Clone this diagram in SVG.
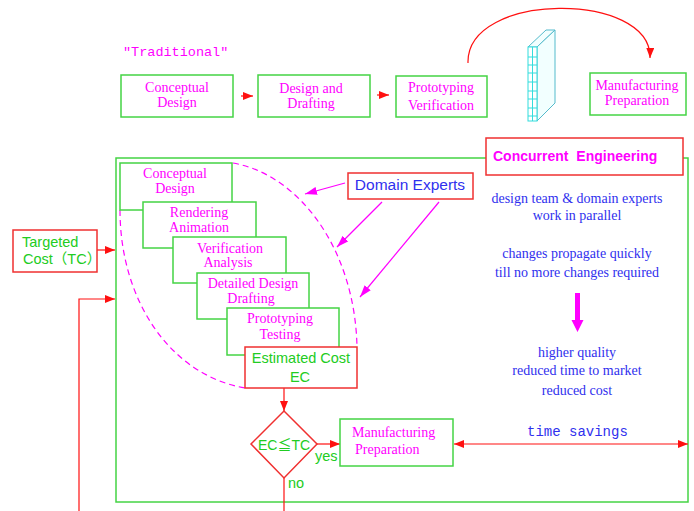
<svg xmlns="http://www.w3.org/2000/svg" width="694" height="511" viewBox="0 0 694 511">
<defs>
<style>
.g{fill:#fff;stroke:#44d444;stroke-width:1.5}
.r{fill:#fff;stroke:#f03030;stroke-width:1.5}
.mt{font-family:"Liberation Serif",serif;font-size:14px;fill:#ff00ff;text-anchor:middle}
.bt{font-family:"Liberation Serif",serif;font-size:14px;fill:#3030ee;text-anchor:middle}
.gt{font-family:"Liberation Sans","Noto Sans CJK JP",sans-serif;font-size:14.5px;fill:#22cc22}
.mono{font-family:"Liberation Mono",monospace;font-size:14px}
.rl{stroke:#ff1010;stroke-width:1.2;fill:none}
.ml{stroke:#ff00ff;stroke-width:1.2;fill:none}
</style>
<marker id="ar" viewBox="0 0 10 8" refX="10" refY="4" markerWidth="10" markerHeight="8" markerUnits="userSpaceOnUse" orient="auto-start-reverse"><path d="M0,0 L10,4 L0,8 z" fill="#ff1010"/></marker>
<marker id="am" viewBox="0 0 12 8" refX="12" refY="4" markerWidth="12" markerHeight="8" markerUnits="userSpaceOnUse" orient="auto"><path d="M0,0 L12,4 L0,8 z" fill="#ff00ff"/></marker>
</defs>
<rect width="694" height="511" fill="#fff"/>

<text x="123" y="56" class="mono" style="font-size:13.5px" fill="#ff00ff">"Traditional"</text>

<g id="ce-frame"><rect x="116" y="158" width="572" height="344" fill="none" stroke="#44d444" stroke-width="1.5"/></g>

<g id="expert-scope">
<path d="M233,163 C300,175 355,250 357,347" fill="none" stroke="#ff00ff" stroke-width="1.2" stroke-dasharray="6,4"/>
<path d="M120,210 C120,300 170,375 245,388" fill="none" stroke="#ff00ff" stroke-width="1.2" stroke-dasharray="6,4"/>
</g>

<g id="connectors">
<line x1="241" y1="96" x2="253" y2="96" class="rl" marker-end="url(#ar)"/>
<line x1="377" y1="95" x2="389" y2="95" class="rl" marker-end="url(#ar)"/>
<path d="M468,63 C466,-9 652,-9 650,58" class="rl" marker-end="url(#ar)"/>
<line x1="97" y1="250" x2="115" y2="250" class="rl" marker-end="url(#ar)"/>
<polyline points="79,511 79,299 115,299" class="rl" marker-end="url(#ar)"/>
<line x1="284" y1="388" x2="284" y2="411" class="rl" marker-end="url(#ar)"/>
<line x1="317" y1="444" x2="340" y2="444" class="rl" marker-end="url(#ar)"/>
<line x1="284" y1="478" x2="284" y2="511" class="rl"/>
<line x1="454" y1="444" x2="688" y2="444" class="rl" marker-start="url(#ar)" marker-end="url(#ar)"/>
<line x1="345" y1="183" x2="305" y2="194" class="ml" marker-end="url(#am)"/>
<line x1="382" y1="202" x2="337" y2="247" class="ml" marker-end="url(#am)"/>
<line x1="439" y1="202" x2="360" y2="297" class="ml" marker-end="url(#am)"/>
<polygon points="575,293 580,293 580,320 583.5,320 577.5,332 571.5,320 575,320" fill="#ff00ff"/>
</g>

<g id="t-conceptual"><rect x="121" y="75" width="112" height="42" class="g"/><text class="mt"><tspan x="177" y="92">Conceptual</tspan><tspan x="177" y="107">Design</tspan></text></g>
<g id="t-design"><rect x="258" y="75" width="112" height="42" class="g"/><text class="mt"><tspan x="311" y="93">Design and</tspan><tspan x="311" y="108">Drafting</tspan></text></g>
<g id="t-proto"><rect x="396" y="76" width="91" height="41" class="g"/><text class="mt"><tspan x="441" y="92">Prototyping</tspan><tspan x="441" y="110">Verification</tspan></text></g>
<g id="t-manuf"><rect x="590" y="73" width="96" height="42" class="g"/><text class="mt"><tspan x="637" y="90">Manufacturing</tspan><tspan x="637" y="105">Preparation</tspan></text></g>

<g id="wall">
<polygon points="528,47 537,47 555,30 546,30" fill="#f2ffff" stroke="#55bbcc" stroke-width="1"/>
<polygon points="537,47 555,30 555,103 537,121" fill="#f2ffff" stroke="#55bbcc" stroke-width="1"/>
<rect x="528" y="47" width="9" height="74" fill="#fff" stroke="#33dddd" stroke-width="1"/>
<path d="M532.5,47 V121 M528,57 H537 M528,65 H537 M528,73 H537 M528,82 H537 M528,91 H537 M528,99 H537 M528,108 H537 M528,116 H537" stroke="#33dddd" stroke-width="1"/>
</g>

<g id="targeted-cost"><rect x="13" y="230" width="84" height="42" class="r"/><text class="gt"><tspan x="22" y="247">Targeted</tspan><tspan x="23" y="264">Cost（TC）</tspan></text></g>

<g id="s-conceptual"><rect x="120" y="163" width="112" height="47" class="g"/><text class="mt"><tspan x="175" y="178">Conceptual</tspan><tspan x="175" y="193">Design</tspan></text></g>
<g id="s-rendering"><rect x="143" y="202" width="113" height="46" class="g"/><text class="mt"><tspan x="199" y="217">Rendering</tspan><tspan x="199" y="232">Animation</tspan></text></g>
<g id="s-verification"><rect x="173" y="237" width="113" height="46" class="g"/><text class="mt"><tspan x="230" y="253">Verification</tspan><tspan x="228" y="267">Analysis</tspan></text></g>
<g id="s-detailed"><rect x="197" y="273" width="112" height="46" class="g"/><text class="mt"><tspan x="253" y="288">Detailed Design</tspan><tspan x="251" y="303">Drafting</tspan></text></g>
<g id="s-prototyping"><rect x="227" y="308" width="112" height="47" class="g"/><text class="mt"><tspan x="280" y="323">Prototyping</tspan><tspan x="280" y="339">Testing</tspan></text></g>
<g id="s-estimated"><rect x="245" y="347" width="112" height="41" class="r"/><text class="gt" text-anchor="middle"><tspan x="301" y="363">Estimated Cost</tspan><tspan x="300" y="382">EC</tspan></text></g>

<g id="domain-experts"><rect x="348" y="173" width="125" height="26" class="r"/><text x="410" y="190" text-anchor="middle" font-family="Liberation Sans,sans-serif" font-size="15.5" fill="#3030ee">Domain Experts</text></g>

<g id="concurrent-title"><rect x="486" y="138" width="197" height="37" class="r"/><text x="493" y="161" font-family="Liberation Sans,sans-serif" font-size="14" font-weight="bold" word-spacing="4" fill="#ff00ff">Concurrent Engineering</text></g>

<g id="notes">
<text class="bt"><tspan x="577" y="203">design team &amp; domain experts</tspan><tspan x="577" y="220">work in parallel</tspan></text>
<text class="bt"><tspan x="577" y="258">changes propagate quickly</tspan><tspan x="577" y="277">till no more changes required</tspan></text>
<text class="bt"><tspan x="577" y="357">higher quality</tspan><tspan x="577" y="375">reduced time to market</tspan><tspan x="577" y="395">reduced cost</tspan></text>
</g>

<g id="decision"><polygon points="284,411 317,444 284,478 251,444" class="r"/><text x="284" y="450" class="gt" text-anchor="middle" style="font-size:14px">EC≦TC</text></g>
<text x="315" y="461" class="gt">yes</text>
<text x="288" y="488" class="gt">no</text>

<g id="b-manuf"><rect x="340" y="419" width="113" height="47" class="g"/><text class="mt" text-anchor="start" style="text-anchor:start"><tspan x="352" y="437">Manufacturing</tspan><tspan x="355" y="454">Preparation</tspan></text></g>

<text x="527" y="436" class="mono" fill="#3030ee">time savings</text>
</svg>
